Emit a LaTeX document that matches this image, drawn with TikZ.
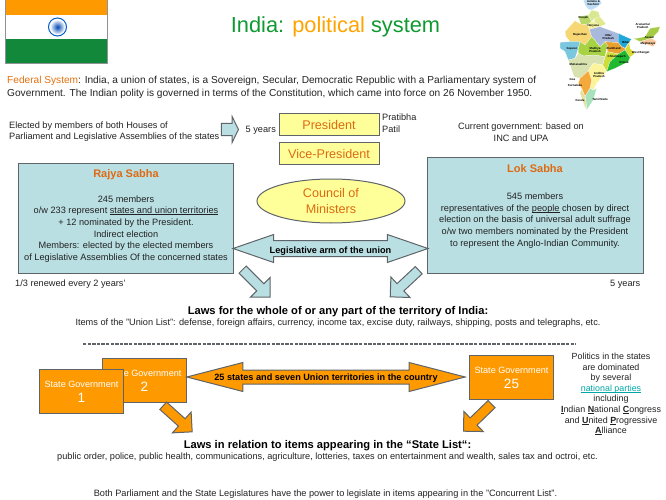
\documentclass[tikz,border=0pt]{standalone}
\usepackage{fontspec}
\setmainfont{Liberation Sans}
\usetikzlibrary{positioning,shapes.geometric,shapes.arrows}
\definecolor{txt}{HTML}{222222}
\definecolor{edge}{HTML}{5F6468}
\definecolor{skyfill}{HTML}{B9DFE3}
\definecolor{lemon}{HTML}{FFFF99}
\definecolor{saffron}{HTML}{FF9900}
\definecolor{rust}{HTML}{DD6A12}
\definecolor{indgreen}{HTML}{12883A}
\newcommand{\mapstate}[2]{\definecolor{mapc}{HTML}{#1}\filldraw[fill=mapc,state] plot coordinates {#2} -- cycle;}
\newcommand{\lowline}[1]{\setbox0\hbox{#1}\rlap{\rule[-1.1pt]{\wd0}{.45pt}}\box0\relax}
\tikzset{
	plain/.style={inner sep=0pt,align=center,text=txt,font=\fontsize{9.2}{11.7}\selectfont},
	body/.style={plain,align=left,font=\fontsize{10.14}{12.7}\selectfont},
	side/.style={plain,font=\fontsize{8.9}{10.6}\selectfont},
	house/.style={draw=edge,line width=1pt,fill=skyfill},
	housename/.style={inner sep=0pt,text=rust,font=\fontsize{11}{12}\selectfont\bfseries},
	lawhead/.style={inner sep=0pt,text=black,font=\fontsize{11.15}{12}\selectfont\bfseries},
	office/.style={draw=edge,line width=1pt,fill=lemon,text=rust,inner sep=0pt,minimum width=100pt,minimum height=22pt,font=\fontsize{12.6}{15}\selectfont},
	stategov/.style={draw=edge,line width=1pt,fill=saffron,text=white,align=center,inner sep=0pt,minimum width=84pt,minimum height=44pt,font=\fontsize{9.1}{14}\selectfont},
	blockarrow/.style={single arrow,draw=edge,line width=1pt,inner sep=0pt,text height=9pt,text depth=0pt,minimum height=39pt,minimum width=27pt,single arrow head extend=9pt,single arrow tip angle=90,anchor=tip},
	wide/.style={double arrow,draw=edge,line width=1pt,inner sep=0pt,font=\fontsize{9.15}{10}\selectfont\bfseries,text=black},
	state/.style={draw=white,line width=.15pt},
	maplabel/.style={inner sep=0pt,font=\fontsize{2.9}{3}\selectfont\bfseries,text=black}
}
\begin{document}
\begin{tikzpicture}[x=1pt,y=-1pt]
	\useasboundingbox (0,0) rectangle (666,500);

	\fill[saffron] (5,0) rectangle (107.5,15);
	\fill[indgreen] (5,39) rectangle (107.5,63);
	\draw[edge!70,line width=.6pt] (5,0) -- (5,63) -- (107.5,63) -- (107.5,0);
	\shade[inner color=blue!60!cyan!70!black,outer color=white] (57.5,27) circle (7.5);
	\draw[blue!55!cyan!80!black,line width=1pt] (57.5,27) circle (9);

	\node[inner sep=0pt,font=\fontsize{21.8}{26}\selectfont] (title) at (335.5,27) {\textcolor{indgreen!85!green}{India:} \textcolor{saffron!90!yellow}{political} \textcolor{indgreen!85!green}{system}};

	\begin{scope}[shift={(550,0)},scale=1/3]
		\mapstate{BFDDF5}{(100,0)(150,0)(155,10)(140,22)(125,30)(115,28)(105,15)}
		\mapstate{B8D86A}{(85,50)(115,45)(125,65)(112,75)(92,72)}
		\mapstate{D8E890}{(115,45)(125,30)(145,35)(150,50)(135,55)(125,65)}
		\mapstate{E0E890}{(135,55)(150,50)(168,72)(150,80)(132,65)}
		\mapstate{F3EE9A}{(112,75)(125,65)(132,65)(150,80)(118,88)}
		\mapstate{F7D774}{(45,95)(75,62)(92,72)(112,75)(118,88)(125,110)(105,135)(90,125)(60,125)(48,110)}
		\mapstate{A9B9DC}{(118,88)(150,80)(205,100)(205,128)(165,125)(150,140)(130,115)(125,110)}
		\mapstate{22A7D9}{(205,100)(245,118)(235,130)(225,145)(215,140)(205,128)}
		\mapstate{7CC7E0}{(30,127)(60,125)(90,125)(85,145)(75,175)(55,180)(45,155)(30,145)}
		\mapstate{A7D244}{(90,125)(105,135)(125,110)(130,115)(150,140)(165,125)(172,135)(165,170)(130,165)(100,168)(85,160)(85,145)}
		\mapstate{E8A030}{(172,135)(165,125)(205,128)(215,140)(225,145)(225,150)(205,162)(172,155)}
		\mapstate{D8DC30}{(245,118)(235,130)(225,150)(240,172)(255,160)(240,145)(238,130)}
		\mapstate{CFDC3A}{(165,170)(172,155)(205,162)(180,185)(170,215)(158,195)}
		\mapstate{22B830}{(205,162)(225,150)(240,172)(235,185)(195,205)(170,215)(180,185)}
		\mapstate{D8E2B0}{(55,180)(75,175)(85,160)(100,168)(130,165)(165,170)(158,195)(130,190)(115,212)(90,235)(72,230)}
		\mapstate{FBF49A}{(130,190)(158,195)(170,215)(140,250)(130,270)(120,265)(125,240)(115,212)}
		\mapstate{F4A93C}{(90,235)(115,212)(125,240)(120,265)(105,290)(95,265)(85,250)}
		\mapstate{A8E2BC}{(120,265)(130,270)(140,265)(130,300)(110,330)(108,305)(105,290)}
		\mapstate{E6E0A0}{(90,280)(95,265)(105,290)(108,305)(108,330)}
		\mapstate{A5CC44}{(260,115)(285,110)(300,85)(330,80)(325,95)(305,115)(270,125)(250,115)}
		\mapstate{F8C89A}{(270,125)(305,115)(320,125)(310,140)(295,135)(280,130)}
		\foreach \x/\y/\t in {
			130/9/{Jammu \&\\Kashmir},
			100/53/Punjab,
			130/76/Haryana,
			90/105/Rajasthan,
			175/110/{Uttar\\Pradesh},
			228/126/Bihar,
			65/147/Gujarat,
			135/150/{Madhya\\Pradesh},
			190/144/Jharkhand,
			200/170/Chhattisgarh,
			222/186/Orissa,
			272/158/{West Bengal},
			85/194/Maharashtra,
			147/224/{Andhra\\Pradesh},
			67/240/Goa,
			75/255/Karnataka,
			90/302/Kerala,
			150/298/{Tamil Nadu},
			278/77/{Arunachal\\Pradesh},
			298/113/Assam,
			295/131/Meghalaya
		}
			\node[maplabel,align=center] at (\x,\y) {\t};
	\end{scope}

	\node[body,anchor=north west] (federal) at (7,76) {\textcolor{rust!85!saffron}{Federal System}: India, a union of states, is a Sovereign, Secular, Democratic Republic with a Parliamentary system of\\Government. The Indian polity is governed in terms of the Constitution, which came into force on 26 November 1950.};

	\node[plain,align=left,anchor=west] (elected) at (9,131.5) {Elected by members of both Houses of\\Parliament and Legislative Assemblies of the states};
	\node[single arrow,draw=edge,line width=1pt,fill=skyfill,inner sep=0pt,text height=11pt,text depth=0pt,minimum height=17pt,minimum width=25pt,single arrow head extend=7pt,single arrow tip angle=128,anchor=tip] (termarrow) at (239,129.5) {};
	\node[plain,anchor=west] (fiveleft) at (245.5,130) {5 years};
	\node[office,anchor=north west] (president) at (278.5,113) {President};
	\node[office,below=6pt of president] (vice) {Vice-President};
	\node[plain,align=left,anchor=west] (patil) at (382,123.5) {Pratibha\\Patil};
	\node[plain] (current) at (521,132.5) {Current government: based on\\INC and UPA};

	\node[draw=edge,line width=1pt,fill=lemon,ellipse,text=rust,align=center,inner sep=0pt,minimum width=148pt,minimum height=44pt,font=\fontsize{12.6}{16.5}\selectfont] (council) at (331,201) {Council of\\Ministers};

	\node[house,anchor=north west,minimum width=215pt,minimum height=110pt] (rajya) at (18,163) {};
	\node[housename] (rajyaname) at (126,174.5) {Rajya Sabha};
	\node[plain] (rajyatext) at (126,229) {245 members\\o/w 233 represent \lowline{states and union territories}\\+ 12 nominated by the President.\\Indirect election\\Members: elected by the elected members\\of Legislative Assemblies Of the concerned states};
	\node[plain,anchor=west] (renewed) at (15,284) {1/3 renewed every 2 years'};

	\node[house,anchor=north west,minimum width=215.5pt,minimum height=116pt] (lok) at (427,157) {};
	\node[housename] (lokname) at (535,168.5) {Lok Sabha};
	\node[plain] (loktext) at (535,220.5) {545 members\\representatives of the \lowline{people} chosen by direct\\election on the basis of universal adult suffrage\\o/w two members nominated by the President\\to represent the Anglo-Indian Community.};
	\node[plain,anchor=east] (fiveright) at (640.5,284) {5 years};

	\node[wide,fill=skyfill,text height=12.3pt,text depth=2.7pt,minimum height=195pt,minimum width=27pt,double arrow head extend=6pt,double arrow tip angle=38] (arm) at (330.5,248.5) {Legislative arm of the union};
	\node[blockarrow,fill=skyfill,rotate=-45] (lawleft) at (270.7,297.7) {};
	\node[blockarrow,fill=skyfill,rotate=-137] (lawright) at (389.7,297.3) {};

	\node[lawhead] (unionlaws) at (338,312) {Laws for the whole of or any part of the territory of India:};
	\node[plain,below=1.7pt of unionlaws] (unionlist) {Items of the "Union List": defense, foreign affairs, currency, income tax, excise duty, railways, shipping, posts and telegraphs, etc.};

	\coordinate (dashstart) at (83,344);
	\coordinate (dashend) at (576,344);
	\draw[edge,line width=1.2pt,dash pattern=on 3.3pt off 1.3pt] (dashstart) -- (dashend);

	\node[stategov,anchor=north west] (govtwo) at (102,358) {State Government\\[1pt]{\fontsize{13.5}{14}\selectfont 2}};
	\node[stategov,anchor=north west] (govone) at (39,369) {State Government\\[1pt]{\fontsize{13.5}{14}\selectfont 1}};
	\node[stategov,anchor=north west] (govlast) at (469,355) {State Government\\[1pt]{\fontsize{13.5}{14}\selectfont 25}};
	\node[wide,fill=saffron,text height=9.5pt,text depth=3.5pt,minimum height=278pt,minimum width=28pt,double arrow head extend=7.5pt,double arrow tip angle=29] (count) at (326,377) {25 states and seven Union territories in the country};
	\node[blockarrow,fill=saffron,rotate=-42] (stateleft) at (192.7,432.3) {};
	\node[blockarrow,fill=saffron,rotate=-136] (stateright) at (463,431.7) {};

	\node[side] (politics) at (611,394) {Politics in the states\\are dominated\\by several\\\textcolor{teal!70!cyan}{\lowline{national parties}}\\including\\\lowline{\textbf{I}}ndian \lowline{\textbf{N}}ational \lowline{\textbf{C}}ongress\\and \lowline{\textbf{U}}nited \lowline{\textbf{P}}rogressive\\\lowline{\textbf{A}}lliance};

	\node[lawhead] (statelaws) at (327.5,446) {Laws in relation to items appearing in the “State List“:};
	\node[plain,below=1.7pt of statelaws] (statelist) {public order, police, public health, communications, agriculture, lotteries, taxes on entertainment and wealth, sales tax and octroi, etc.};
	\node[plain] (concurrent) at (325.5,494.5) {Both Parliament and the State Legislatures have the power to legislate in items appearing in the "Concurrent List".};
\end{tikzpicture}
\end{document}
